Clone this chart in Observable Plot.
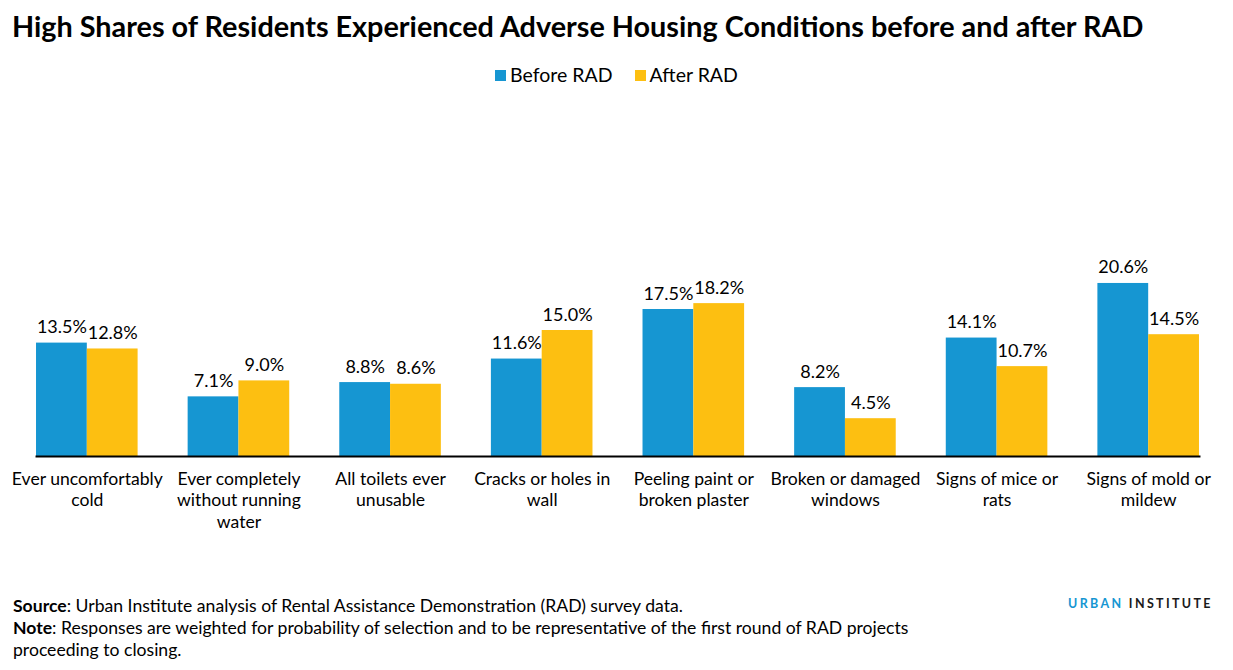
<!DOCTYPE html>
<html>
<head>
<meta charset="utf-8">
<script src="https://cdn.jsdelivr.net/npm/d3@7"></script>
<script src="https://cdn.jsdelivr.net/npm/@observablehq/plot@0.6"></script>
<style>
  body { margin: 0; background: #fff; font-family: Lato, sans-serif; width: 1233px; height: 670px; position: relative; overflow: hidden; }
  #title { position: absolute; left: 12px; top: 9px; font-size: 28.8px; font-weight: 700; color: #000; white-space: nowrap; }
  #legend { position: absolute; left: 0; width: 1233px; top: 63px; text-align: center; font-size: 19.5px; color: #000; }
  #legend span.item { display: inline-block; margin: 0 11px; }
  #legend span.sw { display: inline-block; width: 11px; height: 11px; margin-right: 4px; vertical-align: 1px; }
  #chart { position: absolute; left: 0; top: 230px; }
  #footer { position: absolute; left: 13px; top: 595px; font-size: 17.6px; line-height: 22px; color: #000; }
  #logo { position: absolute; left: 1068px; top: 596px; font-size: 12.5px; font-weight: 700; letter-spacing: 2.35px; color: #1a1a1a; }
</style>
</head>
<body>
<div id="title">High Shares of Residents Experienced Adverse Housing Conditions before and after RAD</div>
<div id="legend"></div>
<div id="chart"></div>
<div id="footer">
  <div><b>Source</b>: Urban Institute analysis of Rental Assistance Demonstration (RAD) survey data.</div>
  <div><b>Note</b>: Responses are weighted for probability of selection and to be representative of the first round of RAD projects</div>
  <div>proceeding to closing.</div>
</div>
<div id="logo"><span style="color:#1696d2">URBAN</span> INSTITUTE</div>
<script>
const categories = [
  "Ever uncomfortably\ncold",
  "Ever completely\nwithout running\nwater",
  "All toilets ever\nunusable",
  "Cracks or holes in\nwall",
  "Peeling paint or\nbroken plaster",
  "Broken or damaged\nwindows",
  "Signs of mice or\nrats",
  "Signs of mold or\nmildew"
];
const seriesNames = ["Before RAD", "After RAD"];
const beforeValues = [13.5, 7.1, 8.8, 11.6, 17.5, 8.2, 14.1, 20.6];
const afterValues = [12.8, 9.0, 8.6, 15.0, 18.2, 4.5, 10.7, 14.5];
const seriesColors = ["#1696d2", "#fdbf11"];

const data = [];
categories.forEach((c, i) => {
  data.push({category: c, series: seriesNames[0], value: beforeValues[i]});
  data.push({category: c, series: seriesNames[1], value: afterValues[i]});
});

// legend
const legend = document.getElementById("legend");
seriesNames.forEach((s, i) => {
  const item = document.createElement("span");
  item.className = "item";
  item.innerHTML = `<span class="sw" style="background:${seriesColors[i]}"></span>${s}`;
  legend.appendChild(item);
});

const chart = Plot.plot({
  width: 1233,
  height: 310,
  marginTop: 16,
  marginBottom: 84,
  marginLeft: 11,
  marginRight: 9,
  style: {fontFamily: "Lato, sans-serif", fontSize: "16px", color: "#000", background: "#fff"},
  fx: {domain: categories, paddingInner: 0.33, paddingOuter: 0.165, round: false, label: null},
  x: {domain: seriesNames, padding: 0, round: false, axis: null},
  y: {domain: [0, 25], axis: null},
  color: {domain: seriesNames, range: seriesColors},
  marks: [
    Plot.barY(data, {fx: "category", x: "series", y: "value", fill: "series"}),
    Plot.text(data, {fx: "category", x: "series", y: "value", text: d => d.value.toFixed(1) + "%", lineAnchor: "bottom", dy: -10, fontSize: 18, fill: "#000"}),
    Plot.frame({anchor: "bottom", facet: "super", stroke: "#000", strokeWidth: 2}),
    Plot.axisFx({anchor: "bottom", tickSize: 0, tickPadding: 13, fontSize: 17.6, lineHeight: 1.22, label: null, fill: "#000"})
  ]
});
document.getElementById("chart").appendChild(chart);
</script>
</body>
</html>
